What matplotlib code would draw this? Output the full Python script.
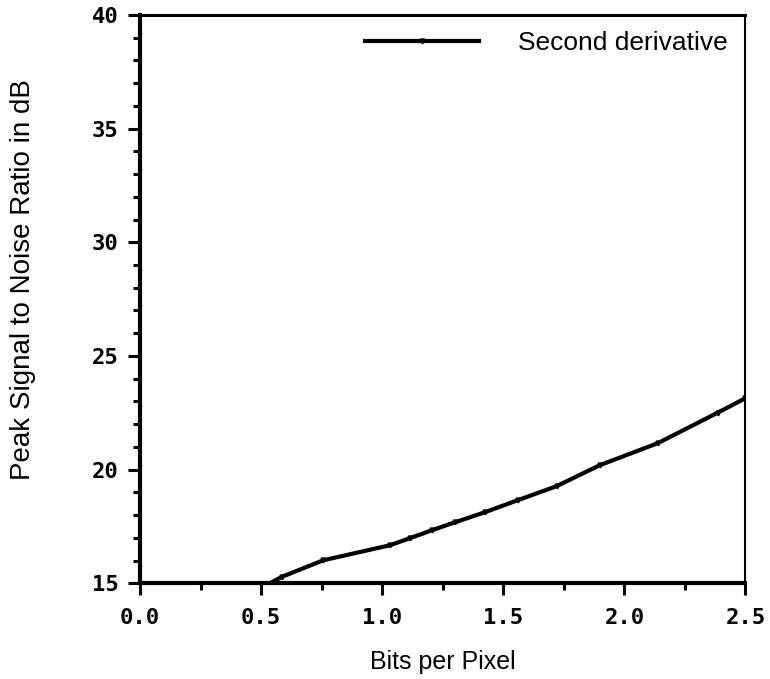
import numpy as np
import matplotlib.pyplot as plt
from matplotlib.ticker import MultipleLocator

plt.rcParams['font.family'] = ['Liberation Sans', 'DejaVu Sans']

# values
bits_per_pixel = [0.50, 0.585, 0.756, 1.031, 1.114, 1.205, 1.30, 1.423, 1.559, 1.72, 1.898, 2.14, 2.385, 2.5]
psnr_db = [14.8, 15.28, 16.01, 16.67, 16.98, 17.33, 17.68, 18.12, 18.65, 19.27, 20.19, 21.17, 22.5, 23.14]
x_ticks = [0.0, 0.5, 1.0, 1.5, 2.0, 2.5]
y_ticks = [15, 20, 25, 30, 35, 40]


def main():
    fig = plt.figure(figsize=(7.7, 6.79), dpi=100)
    ax = fig.add_axes([0.182, 0.141, 0.786, 0.837])

    ax.plot(bits_per_pixel, psnr_db, color='black', linewidth=3,
            marker='v', markersize=3.5, label='Second derivative')

    ax.set_xlim(0, 2.5)
    ax.set_ylim(15, 40)
    ax.set_xticks(x_ticks)
    ax.set_xticklabels([f'{t:.1f}' for t in x_ticks])
    ax.set_yticks(y_ticks)
    ax.xaxis.set_minor_locator(MultipleLocator(0.25))
    ax.yaxis.set_minor_locator(MultipleLocator(1))

    # tick labels in the scan are wide and evenly spaced
    for lab in ax.get_xticklabels() + ax.get_yticklabels():
        lab.set_family('DejaVu Sans Mono')
        lab.set_fontsize(16)
        lab.set_fontweight('bold')

    ax.tick_params(which='major', direction='out', length=8.5, width=2.2)
    ax.tick_params(which='minor', direction='out', length=5, width=2.2)
    ax.tick_params(axis='x', pad=9)
    ax.tick_params(axis='y', pad=7)

    for side in ['left', 'bottom']:
        ax.spines[side].set_linewidth(3)
    ax.spines['top'].set_linewidth(2.2)
    ax.spines['right'].set_linewidth(1.5)

    ax.set_xlabel('Bits per Pixel', fontsize=18, labelpad=16)
    ax.set_ylabel('Peak Signal to Noise Ratio in dB', fontsize=20)
    ax.yaxis.set_label_coords(-0.172, 0.535)

    ax.legend(loc='center left', frameon=False, fontsize=19,
              handlelength=4.3, handletextpad=1.5, numpoints=1,
              bbox_to_anchor=(0.372, 0.95), borderaxespad=0, borderpad=0)

    fig.savefig('out.png', dpi=100)


if __name__ == '__main__':
    main()
